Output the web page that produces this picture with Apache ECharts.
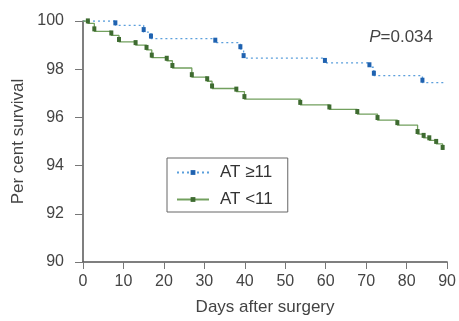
<!DOCTYPE html>
<html>
<head>
<meta charset="utf-8">
<script src="https://cdn.jsdelivr.net/npm/echarts@6/dist/echarts.min.js"></script>
<style>
html, body { margin: 0; padding: 0; background: #fff; }
#chart { width: 459px; height: 321px; }
</style>
</head>
<body>
<div id="chart"></div>
<script>
// Kaplan-Meier steps: [day of drop, survival after drop]
var high_days = [0, 8, 15, 16.8, 32.7, 38.9, 39.7, 59.8, 70.8, 71.9, 83.9, 89.5];
var high_vals = [100, 99.82, 99.54, 99.27, 99.1, 98.83, 98.46, 98.26, 98.08, 97.73, 97.44, 97.44];
var low_days = [0, 1.2, 2.8, 7, 8.9, 13, 15.7, 17, 20.7, 22.1, 26.9, 30.7, 31.9, 37.9, 39.9,
    53.7, 60.9, 67.8, 72.8, 77.7, 82.7, 84.2, 85.6, 87.3, 88.9];
var low_vals = [100, 99.9, 99.57, 99.4, 99.13, 99.0, 98.8, 98.48, 98.35, 98.05, 97.67, 97.5, 97.2,
    97.07, 96.76, 96.52, 96.33, 96.14, 95.89, 95.68, 95.31, 95.15, 95.05, 94.9, 94.65];
var x_ticks = [0, 90, 10];
var y_ticks = [90, 100, 2];
var names = ['AT \u226511', 'AT <11'];

function steps(days, vals, last_plain) {
    var out = [];
    for (var i = 0; i < days.length; ++i) {
        var item = { value: [days[i], vals[i]] };
        if (i === 0 || (last_plain && i === days.length - 1)) item.symbol = 'none';
        out.push(item);
    }
    return out;
}

var chart = echarts.init(document.getElementById('chart'));
var font = 'Liberation Sans, Arial, sans-serif';
var axis_text = { color: '#444', fontSize: 16, fontFamily: font };
var name_text = { color: '#444', fontSize: 17, fontFamily: font };

chart.setOption({
    animation: false,
    grid: { left: 83, right: 9, top: 21, bottom: 56 },
    legend: {
        orient: 'vertical',
        left: 167,
        top: 158,
        padding: [6, 15, 4, 9],
        itemGap: 10,
        itemWidth: 32,
        itemHeight: 6,
        borderColor: '#666',
        borderWidth: 1,
        textStyle: { color: '#333', fontSize: 17, fontFamily: font, padding: [0, 0, 0, 6] },
        data: names
    },
    xAxis: {
        type: 'value',
        min: x_ticks[0], max: x_ticks[1], interval: x_ticks[2],
        name: 'Days after surgery',
        nameLocation: 'middle',
        nameGap: 37,
        nameTextStyle: name_text,
        axisLine: { lineStyle: { color: '#555', width: 1.5 } },
        axisTick: { length: 7, lineStyle: { color: '#777' } },
        axisLabel: Object.assign({ margin: 12 }, axis_text),
        splitLine: { show: false }
    },
    yAxis: {
        type: 'value',
        min: y_ticks[0], max: y_ticks[1], interval: y_ticks[2],
        name: 'Per cent survival',
        nameLocation: 'middle',
        nameGap: 55,
        nameTextStyle: name_text,
        axisLine: { show: true, lineStyle: { color: '#555', width: 1.5 } },
        axisTick: { show: true, length: 8, lineStyle: { color: '#777' } },
        axisLabel: Object.assign({ margin: 19 }, axis_text),
        splitLine: { show: false }
    },
    graphic: [{
        type: 'text',
        right: 26,
        top: 29,
        style: {
            text: '{i|P}=0.034',
            fill: '#444',
            fontSize: 17,
            fontFamily: font,
            rich: { i: { fontStyle: 'italic', fontSize: 17, fill: '#444', fontFamily: font } }
        }
    }],
    series: [
        {
            name: names[0],
            type: 'line',
            step: 'end',
            data: steps(high_days, high_vals, true),
            symbol: 'rect',
            symbolSize: [4, 5],
            symbolOffset: [0, -2.5],
            itemStyle: { color: '#1f62b0' },
            lineStyle: { color: '#5b9fdc', width: 1.3, type: [2, 3] }
        },
        {
            name: names[1],
            type: 'line',
            step: 'end',
            data: steps(low_days, low_vals, false),
            symbol: 'rect',
            symbolSize: [4, 5],
            symbolOffset: [0, -2.5],
            itemStyle: { color: '#3e6b30' },
            lineStyle: { color: '#72a05e', width: 1.3 }
        }
    ]
});
</script>
</body>
</html>
